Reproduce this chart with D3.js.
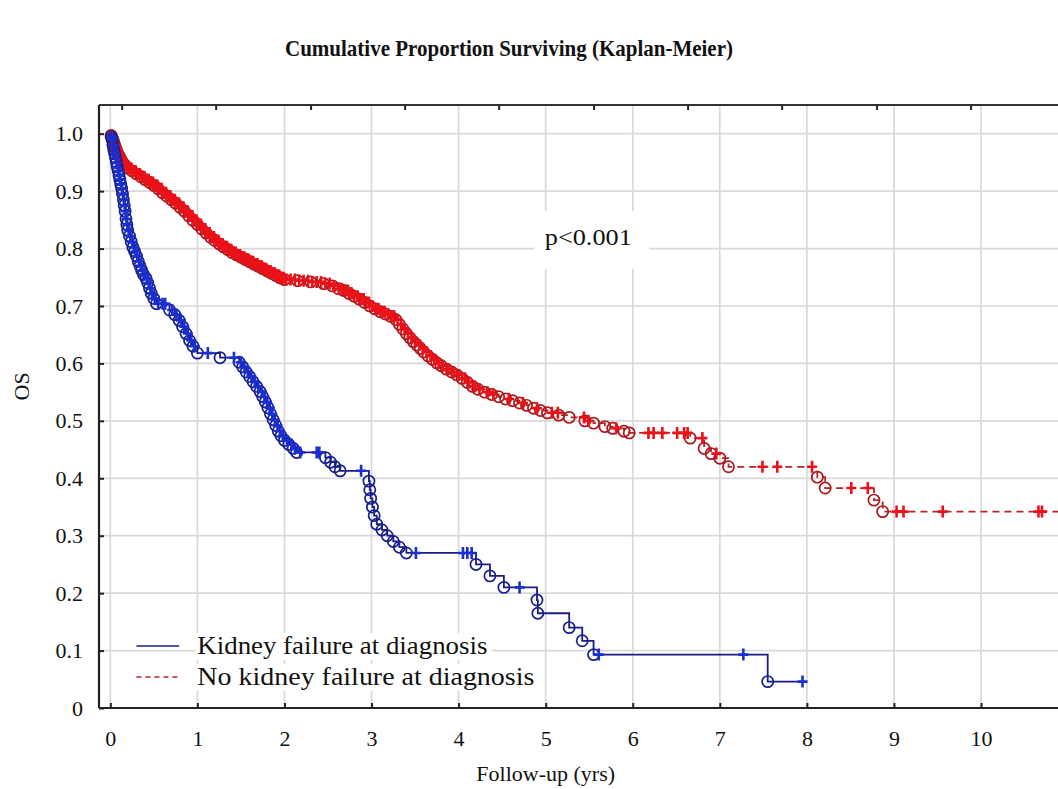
<!DOCTYPE html>
<html>
<head>
<meta charset="utf-8">
<script src="https://cdn.jsdelivr.net/npm/d3@7"></script>
<style>
  body { margin: 0; background: #fff; }
  text { font-family: "Liberation Serif", "DejaVu Serif", serif; fill: #111; }
</style>
</head>
<body>
<div class="km"></div>
<script>
// x ticks (years) and y ticks (proportion)
const xTicks = [0, 1, 2, 3, 4, 5, 6, 7, 8, 9, 10];
const yTicks = [0, 0.1, 0.2, 0.3, 0.4, 0.5, 0.6, 0.7, 0.8, 0.9, 1.0];
// unlabelled ticks on the top frame, in years
const topTicks = [0.13, 1.21, 2.3, 3.38, 4.46, 5.55, 6.63, 7.71, 8.8, 9.88];

// Kidney failure at diagnosis: events [time, survival] and censored times
const kfEvents = [
  [0.01,0.995],[0.02,0.99],[0.03,0.98],[0.04,0.972],[0.05,0.965],[0.06,0.958],[0.07,0.95],
  [0.08,0.942],[0.09,0.935],[0.10,0.927],[0.11,0.92],[0.12,0.912],[0.13,0.905],[0.14,0.895],
  [0.15,0.885],[0.16,0.875],[0.17,0.865],[0.18,0.852],[0.19,0.842],[0.20,0.832],[0.22,0.822],
  [0.24,0.812],[0.26,0.802],[0.28,0.795],[0.30,0.787],[0.32,0.778],[0.34,0.77],[0.36,0.762],
  [0.38,0.755],[0.41,0.748],[0.43,0.74],[0.45,0.731],[0.47,0.722],[0.50,0.713],[0.53,0.704],
  [0.68,0.693],[0.74,0.685],[0.79,0.675],[0.83,0.664],[0.87,0.652],[0.91,0.64],[0.95,0.63],
  [1.0,0.618],[1.26,0.61],[1.48,0.602],[1.52,0.594],[1.56,0.585],[1.60,0.577],[1.64,0.568],
  [1.68,0.56],[1.72,0.551],[1.75,0.542],[1.78,0.533],[1.81,0.523],[1.84,0.512],[1.87,0.502],
  [1.90,0.492],[1.93,0.482],[1.96,0.474],[2.0,0.466],[2.05,0.459],[2.10,0.452],[2.14,0.445],
  [2.47,0.436],[2.53,0.428],[2.58,0.42],[2.64,0.413],[2.97,0.395],[2.98,0.38],[2.99,0.365],
  [3.01,0.35],[3.03,0.335],[3.06,0.32],[3.12,0.31],[3.18,0.30],[3.25,0.29],[3.32,0.28],
  [3.40,0.27],[4.2,0.25],[4.36,0.23],[4.52,0.21],[4.90,0.188],[4.91,0.165],[5.27,0.14],
  [5.42,0.117],[5.55,0.093],[7.55,0.046]
];
const kfCensored = [0.015, 0.025, 0.035, 0.045, 0.055, 0.065, 0.075, 0.085, 0.095, 0.105,
  0.115, 0.125, 0.135, 0.145, 0.155, 0.165, 0.175, 0.185, 0.195, 0.21, 0.23, 0.25, 0.27,
  0.29, 0.31, 0.33, 0.35, 0.37, 0.39, 0.42, 0.44, 0.46, 0.48, 0.51, 0.55, 0.60, 0.63, 0.71,
  0.76, 0.81, 0.85, 0.89, 0.93, 0.97, 1.12, 1.42, 1.5, 1.54, 1.58, 1.62, 1.66, 1.7, 1.74,
  1.77, 1.8, 1.83, 1.86, 1.89, 1.92, 1.95, 1.98, 2.03, 2.08, 2.12, 2.18, 2.37, 2.40, 2.88,
  3.51, 4.05, 4.10, 4.15, 4.70, 5.61, 7.27, 7.95];

// No kidney failure at diagnosis
const nkfEvents = [
  [0.01,0.997],[0.02,0.993],[0.03,0.99],[0.04,0.985],[0.05,0.98],[0.06,0.976],[0.07,0.972],
  [0.08,0.967],[0.10,0.962],[0.12,0.956],[0.14,0.95],[0.17,0.945],[0.20,0.94],[0.25,0.935],
  [0.30,0.93],[0.35,0.925],[0.40,0.92],[0.45,0.915],[0.50,0.91],[0.55,0.904],[0.60,0.897],
  [0.65,0.891],[0.70,0.885],[0.75,0.879],[0.80,0.872],[0.85,0.865],[0.90,0.857],[0.95,0.849],
  [1.00,0.842],[1.05,0.834],[1.10,0.827],[1.15,0.82],[1.20,0.814],[1.25,0.808],[1.30,0.803],
  [1.35,0.798],[1.40,0.793],[1.45,0.789],[1.50,0.785],[1.55,0.781],[1.60,0.777],[1.65,0.773],
  [1.70,0.769],[1.75,0.765],[1.80,0.761],[1.85,0.757],[1.90,0.753],[1.95,0.749],[2.0,0.746],
  [2.15,0.744],[2.3,0.742],[2.45,0.739],[2.55,0.735],[2.62,0.73],[2.68,0.727],[2.74,0.722],
  [2.80,0.717],[2.86,0.712],[2.92,0.706],[2.98,0.70],[3.04,0.695],[3.10,0.69],[3.16,0.686],
  [3.22,0.682],[3.28,0.676],[3.32,0.668],[3.36,0.66],[3.40,0.652],[3.44,0.645],[3.48,0.638],
  [3.52,0.632],[3.56,0.626],[3.60,0.62],[3.65,0.613],[3.70,0.607],[3.75,0.601],[3.80,0.596],
  [3.86,0.59],[3.92,0.585],[3.98,0.58],[4.04,0.574],[4.10,0.567],[4.16,0.56],[4.22,0.555],
  [4.30,0.55],[4.38,0.546],[4.46,0.542],[4.54,0.538],[4.62,0.535],[4.70,0.531],[4.78,0.527],
  [4.86,0.522],[4.94,0.518],[5.02,0.514],[5.15,0.51],[5.27,0.506],[5.45,0.5],[5.55,0.496],
  [5.68,0.49],[5.77,0.487],[5.90,0.482],[5.96,0.479],[6.66,0.47],[6.82,0.452],[6.90,0.443],
  [7.0,0.435],[7.1,0.42],[8.12,0.402],[8.21,0.383],[8.77,0.362],[8.87,0.342]
];
const nkfCensored = [0.015, 0.025, 0.035, 0.045, 0.055, 0.065, 0.075, 0.085, 0.095, 0.11,
  0.125, 0.135, 0.15, 0.16, 0.175, 0.19, 0.21, 0.22, 0.24, 0.26, 0.27, 0.29, 0.31, 0.32,
  0.34, 0.36, 0.37, 0.39, 0.41, 0.42, 0.44, 0.46, 0.47, 0.49, 0.51, 0.52, 0.54, 0.56, 0.57,
  0.59, 0.61, 0.62, 0.64, 0.66, 0.67, 0.69, 0.71, 0.72, 0.74, 0.76, 0.77, 0.79, 0.81, 0.82,
  0.84, 0.86, 0.87, 0.89, 0.91, 0.92, 0.94, 0.96, 0.97, 0.99, 1.01, 1.02, 1.04, 1.06, 1.07,
  1.09, 1.11, 1.12, 1.14, 1.16, 1.17, 1.19, 1.21, 1.22, 1.24, 1.26, 1.27, 1.29, 1.31, 1.32,
  1.34, 1.36, 1.37, 1.39, 1.41, 1.42, 1.44, 1.46, 1.47, 1.49, 1.51, 1.52, 1.54, 1.56, 1.57,
  1.59, 1.61, 1.62, 1.64, 1.66, 1.67, 1.69, 1.71, 1.72, 1.74, 1.76, 1.77, 1.79, 1.81, 1.82,
  1.84, 1.86, 1.87, 1.89, 1.91, 1.92, 1.94, 1.96, 1.97, 1.99, 2.02, 2.07, 2.12, 2.17, 2.22,
  2.27, 2.32, 2.37, 2.42, 2.47, 2.52, 2.57, 2.63, 2.66, 2.7, 2.73, 2.77, 2.8, 2.84, 2.88,
  2.91, 2.94, 2.97, 3.01, 3.05, 3.08, 3.12, 3.15, 3.19, 3.23, 3.26, 3.3, 3.34, 3.38, 3.42,
  3.46, 3.5, 3.55, 3.59, 3.63, 3.68, 3.72, 3.77, 3.82, 3.88, 3.94, 4.0, 4.07, 4.12, 4.18,
  4.24, 4.33, 4.4, 4.58, 4.74, 4.9, 5.07, 5.14, 5.44, 5.49, 5.81, 6.18, 6.24, 6.34, 6.51,
  6.59, 6.63, 6.8, 6.96, 7.49, 7.66, 8.06, 8.51, 8.70, 9.03, 9.11, 9.56, 10.66, 10.70, 11.05];

const seriesNames = ["Kidney failure at diagnosis", "No kidney failure at diagnosis"];

const W = 1058, H = 789;
const margin = {top: 105, left: 99, bottom: 81};
const plotW = 990, plotH = H - margin.top - margin.bottom;

const svg = d3.select(".km").append("svg")
  .attr("width", W).attr("height", H);

const x = d3.scaleLinear().domain([-0.13, 11.24]).range([0, plotW]);
const y = d3.scaleLinear().domain([0, 1.05]).range([plotH, 0]);

svg.append("text")
  .attr("x", 509).attr("y", 56)
  .attr("text-anchor", "middle")
  .attr("textLength", 448).attr("lengthAdjust", "spacingAndGlyphs")
  .style("font-size", "23px").style("font-weight", "bold")
  .text("Cumulative Proportion Surviving (Kaplan-Meier)");

const g = svg.append("g")
  .attr("transform", "translate(" + margin.left + "," + margin.top + ")");

// grid
g.append("g").selectAll("line").data(xTicks).enter().append("line")
  .attr("x1", d => x(d)).attr("x2", d => x(d))
  .attr("y1", 0).attr("y2", plotH)
  .attr("stroke", "#d9d9d9").attr("stroke-width", 1.7);
g.append("g").selectAll("line").data(yTicks.slice(1)).enter().append("line")
  .attr("x1", 0).attr("x2", plotW)
  .attr("y1", d => y(d)).attr("y2", d => y(d))
  .attr("stroke", "#d9d9d9").attr("stroke-width", 1.7);

// p value with its white box
const pLabel = g.append("g");
pLabel.append("rect")
  .attr("x", x(4.87)).attr("y", y(0.865))
  .attr("width", x(6.19) - x(4.87)).attr("height", y(0.765) - y(0.865))
  .attr("fill", "#fff");
pLabel.append("text")
  .attr("x", x(4.99)).attr("y", y(0.8) - 4)
  .attr("textLength", 87).attr("lengthAdjust", "spacingAndGlyphs")
  .style("font-size", "23px")
  .text("p<0.001");

// survival lookup for censor marks
function survAt(events, t) {
  let s = 1;
  for (const e of events) { if (e[0] <= t) s = e[1]; else break; }
  return s;
}
function stepPoints(events, censored) {
  const last = d3.max(censored.concat(events.map(e => e[0])));
  return [[0, 1]].concat(events, [[last, survAt(events, last)]]);
}

const line = d3.line()
  .x(d => x(d[0])).y(d => y(d[1]))
  .curve(d3.curveStepAfter);

const groups = [
  {events: kfEvents, censored: kfCensored, line: "#1b1b8a", dash: null,
   circle: "#16208a", plus: "#1a2fd0"},
  {events: nkfEvents, censored: nkfCensored, line: "#b3262a", dash: "7,5",
   circle: "#a8181e", plus: "#ea1118"}
];

groups.slice().reverse().forEach(gr => {
  const layer = g.append("g");
  layer.append("path")
    .datum(stepPoints(gr.events, gr.censored))
    .attr("d", line)
    .attr("fill", "none")
    .attr("stroke", gr.line)
    .attr("stroke-width", 1.8)
    .attr("stroke-dasharray", gr.dash);
  layer.selectAll("circle").data(gr.events).enter().append("circle")
    .attr("cx", d => x(d[0])).attr("cy", d => y(d[1]))
    .attr("r", 5.6)
    .attr("fill", "none")
    .attr("stroke", gr.circle).attr("stroke-width", 1.7);
  layer.selectAll("path.cens").data(gr.censored).enter().append("path")
    .attr("class", "cens")
    .attr("transform", d => "translate(" + x(d) + "," + y(survAt(gr.events, d)) + ")")
    .attr("d", "M-5,0H5M0,-6V6")
    .attr("stroke", gr.plus).attr("stroke-width", 2.6).attr("fill", "none");
});

// frame: left and bottom axes, top border
g.append("line").attr("x1", 0).attr("x2", plotW).attr("y1", 0).attr("y2", 0)
  .attr("stroke", "#333").attr("stroke-width", 2);

const yAxis = g.append("g")
  .call(d3.axisLeft(y).tickValues(yTicks).tickSize(-5).tickPadding(16)
    .tickFormat(d => d === 0 ? "0" : d3.format(".1f")(d)));
const xAxis = g.append("g")
  .attr("transform", "translate(0," + plotH + ")")
  .call(d3.axisBottom(x).tickValues(xTicks).tickSize(-5).tickPadding(22));
const topAxis = g.append("g")
  .call(d3.axisTop(x).tickValues(topTicks).tickSize(-5).tickFormat(""));
[yAxis, xAxis, topAxis].forEach(a => {
  a.select(".domain").attr("stroke", "#222").attr("stroke-width", 2.2);
  a.selectAll(".tick line").attr("stroke", "#222").attr("stroke-width", 2);
  a.selectAll("text").style("font-size", "22px")
    .style("font-family", "'Liberation Serif', serif").attr("fill", "#111");
});
topAxis.select(".domain").remove();
yAxis.select(".domain").attr("d", "M0," + plotH + "V0");
xAxis.select(".domain").attr("d", "M0,0H" + plotW);

// axis titles
svg.append("text")
  .attr("transform", "translate(29," + (margin.top + y(0.56)) + ") rotate(-90)")
  .attr("text-anchor", "middle")
  .style("font-size", "22px")
  .text("OS");
svg.append("text")
  .attr("x", margin.left + x(5)).attr("y", H - 8)
  .attr("text-anchor", "middle")
  .style("font-size", "22px")
  .text("Follow-up (yrs)");

// legend
const legendWidths = [290, 337];
const legend = g.append("g");
seriesNames.forEach((name, i) => {
  const gr = groups[i];
  const ly = y(0.108) + i * 31;
  legend.append("rect")
    .attr("x", x(0.98)).attr("y", ly - 13)
    .attr("width", legendWidths[i] + 6).attr("height", 27)
    .attr("fill", "#fff");
  legend.append("line")
    .attr("x1", x(0.3)).attr("x2", x(0.79))
    .attr("y1", ly).attr("y2", ly)
    .attr("stroke", gr.line).attr("stroke-width", 1.6)
    .attr("stroke-dasharray", gr.dash ? "5,4" : null);
  legend.append("text")
    .attr("x", x(1.0)).attr("y", ly + 8)
    .attr("textLength", legendWidths[i]).attr("lengthAdjust", "spacingAndGlyphs")
    .style("font-size", "25px")
    .text(name);
});
</script>
</body>
</html>
